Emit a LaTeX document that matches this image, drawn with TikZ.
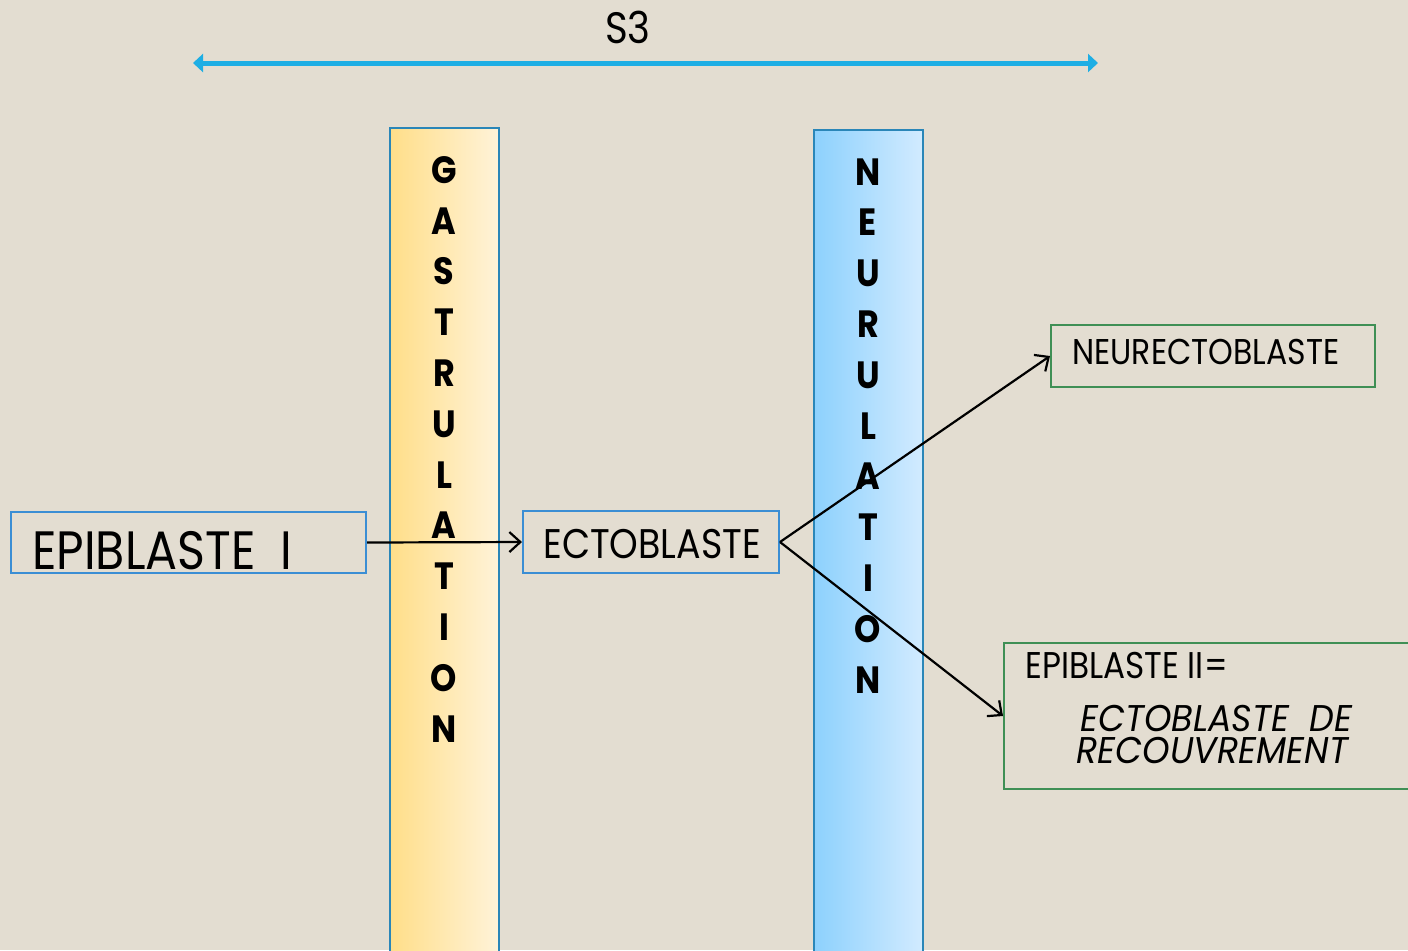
\documentclass[tikz,border=0pt]{standalone}
\usepackage{fontspec}
\setmainfont{Poppins}
\newfontfamily\cgfont{Poppins}[FakeStretch=0.88]
\newfontfamily\cgifont{Poppins}[FakeStretch=0.94]
\usetikzlibrary{arrows.meta}
\definecolor{bg}{HTML}{E3DDD1}
\definecolor{barline}{HTML}{2A86B8}
\definecolor{gasL}{HTML}{FFDE89}
\definecolor{gasR}{HTML}{FFF3D9}
\definecolor{neuL}{HTML}{8DD1FD}
\definecolor{neuR}{HTML}{D2EBFF}
\definecolor{bluebox}{HTML}{3B8ED4}
\definecolor{greenbox}{HTML}{3F8F55}
\definecolor{arrowblue}{HTML}{1EAEE4}
\tikzset{
  txt/.style={inner sep=0pt, anchor=base west, text=black},
  bluerect/.style={draw=bluebox, line width=1pt, inner sep=0pt},
  greenrect/.style={draw=greenbox, line width=1pt, inner sep=0pt},
  bar/.style={draw=barline, line width=1.2pt},
  conn/.style={draw=black, line width=1.1pt, -{Straight Barb[length=5.5pt,width=10pt,line width=1.1pt]}},
  vert/.style={inner sep=0pt, anchor=base, align=center, font=\cgfont\bfseries\fontsize{19pt}{25.4pt}\selectfont},
}
\begin{document}
\begin{tikzpicture}[x=0.5pt,y=-0.5pt]
\useasboundingbox (0,0) rectangle (1408,950);
\fill[bg] (0,0) rectangle (1408,950);
\begin{scope}
\clip (0,0) rectangle (1408,950);
% bars
\path[bar, left color=gasL, right color=gasR] (390,128) rectangle (499,970);
\path[bar, left color=neuL, right color=neuR] (814,130) rectangle (923,970);
% boxes
\node[bluerect, minimum width=177.5pt, minimum height=30.5pt] (epi1) at (188.5,542.5) {};
\node[bluerect, minimum width=128pt, minimum height=31pt] (ecto) at (651,542) {};
\node[greenrect, minimum width=162pt, minimum height=31pt] (neur) at (1213,356) {};
\node[greenrect, minimum width=220pt, minimum height=73pt] (epi2) at (1224,716) {};
\end{scope}
% title and arrow
\node[inner sep=0pt, anchor=base, font=\cgfont\fontsize{22pt}{26pt}\selectfont] (s3) at (628,43) {S3};
\coordinate (sL) at (193,63);
\coordinate (sR) at (1098,63);
\draw[arrowblue, line width=2.5pt, {Triangle[length=5pt,width=9pt]}-{Triangle[length=5pt,width=9pt]}] (sL) -- (sR);
% vertical labels (anchor = baseline of last line)
\node[vert] (gas) at (444,742) {G\\A\\S\\T\\R\\U\\L\\A\\T\\I\\O\\N};
\node[vert] (neu) at (868,693) {N\\E\\U\\R\\U\\L\\A\\T\\I\\O\\N};
% texts
\node[txt, font=\cgfont\fontsize{27pt}{30pt}\selectfont] (t1) at (32,569) {EPIBLASTE~~I};
\node[txt, font=\cgfont\fontsize{20.7pt}{24pt}\selectfont] (t2) at (543,558) {ECTOBLASTE};
\node[txt, font=\cgfont\fontsize{17.9pt}{22pt}\selectfont] (t3) at (1072,364) {NEURECTOBLASTE};
\node[txt, font=\cgfont\fontsize{18.6pt}{22pt}\selectfont] (t4) at (1025,678) {EPIBLASTE II=};
\node[txt, font=\cgifont\itshape\fontsize{18.6pt}{22pt}\selectfont] (t5) at (1080,731) {ECTOBLASTE~~DE};
\node[txt, font=\cgifont\itshape\fontsize{18.6pt}{22pt}\selectfont] (t6) at (1076,763) {RECOUVREMENT};
% connectors
\draw[conn] (epi1.east) -- (ecto.west);
\draw[conn] (ecto.east) -- (neur.west);
\draw[conn] (ecto.east) -- (epi2.west);
\end{tikzpicture}
\end{document}
